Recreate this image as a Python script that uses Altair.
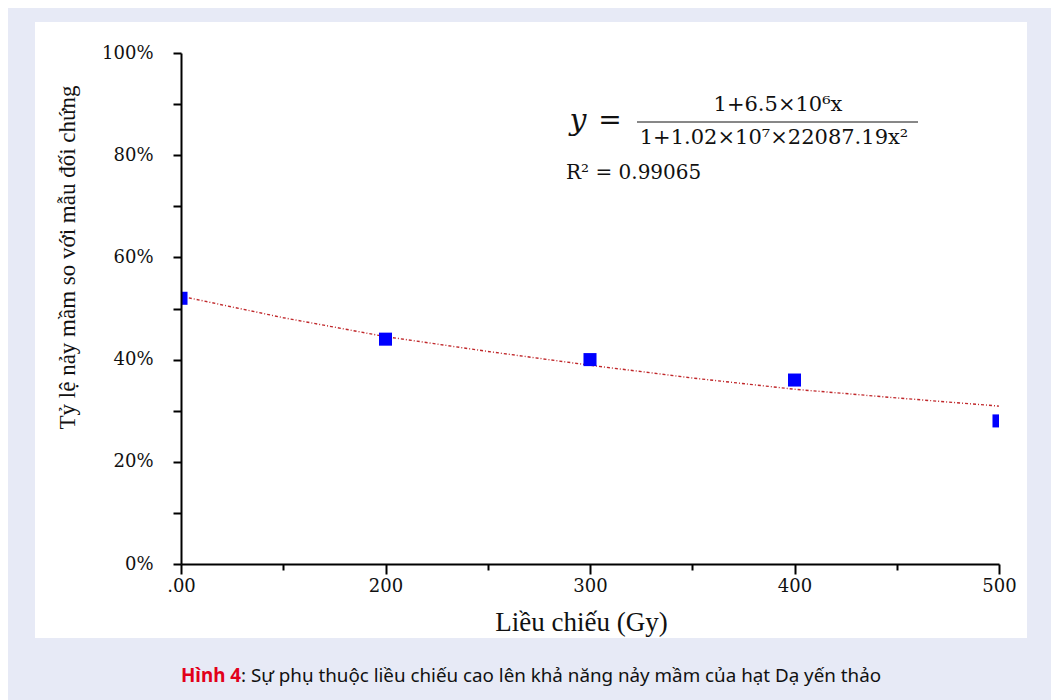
import altair as alt
import pandas as pd

# ---- data ----
dose = [100, 200, 300, 400, 500]
germination = [0.52, 0.44, 0.40, 0.36, 0.28]
trend_dose = [100, 150, 200, 250, 300, 350, 400, 450, 500]
trend_value = [0.524, 0.482, 0.445, 0.416, 0.389, 0.364, 0.342, 0.325, 0.309]
x_ticks = [100, 150, 200, 250, 300, 350, 400, 450, 500]
y_ticks = [0.0, 0.1, 0.2, 0.3, 0.4, 0.5, 0.6, 0.7, 0.8, 0.9, 1.0]

x_title = "Liều chiếu (Gy)"
y_title = "Tỷ lệ nảy mầm so với mẫu đối chứng"
eq_lhs_y = "y"
eq_lhs_eq = "="
eq_num = "1+6.5×10⁶x"
eq_den = "1+1.02×10⁷×22087.19x²"
r2_text = "R² = 0.99065"
caption_bold = "Hình 4"
caption_rest = ": Sự phụ thuộc liều chiếu cao lên khả năng nảy mầm của hạt Dạ yến thảo"

pts = pd.DataFrame({"dose": dose, "rate": germination})
trend = pd.DataFrame({"dose": trend_dose, "rate": trend_value})

SERIF = "DejaVu Serif"
TITLE_SERIF = "Liberation Serif"

x_axis = alt.Axis(
    values=x_ticks,
    labelExpr="datum.value == 100 ? '.00' : (datum.value % 100 == 0 ? toString(datum.value) : '')",
    tickSize={"condition": {"test": "datum.value % 100 == 0", "value": 10}, "value": 6},
    labelPadding=3,
    labelFont=SERIF, labelFontSize=18, labelColor="#111",
    title=x_title, titleFont=TITLE_SERIF, titleFontSize=27, titleFontWeight="normal",
    titleColor="#111", titleX=400, titleY=58, titleBaseline="middle",
    labelFlush=False, labelOverlap=False, zindex=2,
)
y_axis = alt.Axis(
    values=y_ticks,
    labelExpr="round(datum.value*10) % 2 == 0 ? format(datum.value, '.0%') : ''",
    tickSize=8, labelPadding=20,
    labelFont=SERIF, labelFontSize=18, labelColor="#111",
    title=y_title, titleFont=TITLE_SERIF, titleFontSize=23, titleFontWeight="normal",
    titleColor="#111", titleX=-114, titleY=204, titleBaseline="middle", titleAngle=-90,
    labelFlush=False, labelOverlap=False, zindex=2,
)

xs = alt.Scale(domain=[100, 500], nice=False, zero=False)
ys = alt.Scale(domain=[0, 1], nice=False)

one = alt.Data(values=[{}])

panel = alt.Chart(one).mark_rect(color="white").encode(
    x=alt.value(-146), x2=alt.value(846), y=alt.value(-31), y2=alt.value(585)
)

line = alt.Chart(trend).mark_line(
    color="#C0282B", strokeWidth=1.4, strokeDash=[3, 2, 1, 2], clip=True
).encode(
    x=alt.X("dose:Q", scale=xs, axis=x_axis),
    y=alt.Y("rate:Q", scale=ys, axis=y_axis),
)

points = alt.Chart(pts).mark_point(
    shape="square", filled=True, size=170, color="#0000FF", opacity=1, clip=True
).encode(
    x=alt.X("dose:Q", scale=xs, axis=x_axis),
    y=alt.Y("rate:Q", scale=ys, axis=y_axis),
)

eq_y = alt.Chart(one).mark_text(
    text=eq_lhs_y, font=SERIF, fontSize=30, fontStyle="italic", color="#111",
    align="center", baseline="middle"
).encode(x=alt.value(397), y=alt.value(68))

eq_eq = alt.Chart(one).mark_text(
    text=eq_lhs_eq, font=SERIF, fontSize=28, color="#111",
    align="center", baseline="middle"
).encode(x=alt.value(429), y=alt.value(68))

eq_n = alt.Chart(one).mark_text(
    text=eq_num, font=SERIF, fontSize=21, color="#111",
    align="center", baseline="middle"
).encode(x=alt.value(597), y=alt.value(52))

eq_bar = alt.Chart(one).mark_rule(color="#111", strokeWidth=1).encode(
    x=alt.value(456), x2=alt.value(737), y=alt.value(69)
)

eq_d = alt.Chart(one).mark_text(
    text=eq_den, font=SERIF, fontSize=21, color="#111",
    align="center", baseline="middle"
).encode(x=alt.value(593), y=alt.value(85))

r2 = alt.Chart(one).mark_text(
    text=r2_text, font=SERIF, fontSize=20, color="#111",
    align="left", baseline="middle"
).encode(x=alt.value(385), y=alt.value(120))

cap_b = alt.Chart(one).mark_text(
    text=caption_bold, font="Noto Sans", fontSize=18.8, fontWeight="bold", color="#E2001A",
    align="right", baseline="middle"
).encode(x=alt.value(60), y=alt.value(623))

cap_r = alt.Chart(one).mark_text(
    text=caption_rest, font="Noto Sans", fontSize=18.8, color="#111",
    align="left", baseline="middle"
).encode(x=alt.value(60), y=alt.value(623))

chart = alt.layer(
    panel, line, points, eq_y, eq_eq, eq_n, eq_bar, eq_d, r2, cap_b, cap_r
).properties(
    width=818, height=511,
    background="#E7EAF6",
    padding={"left": 173, "top": 45, "right": 52, "bottom": 136},
    autosize=alt.AutoSizeParams(type="none"),
).configure_view(
    stroke=None
).configure_axis(
    grid=False, domainColor="black", domainWidth=2, tickColor="black", tickWidth=2,
)

chart.save("out.html", embed_options={"renderer": "svg", "actions": False})
